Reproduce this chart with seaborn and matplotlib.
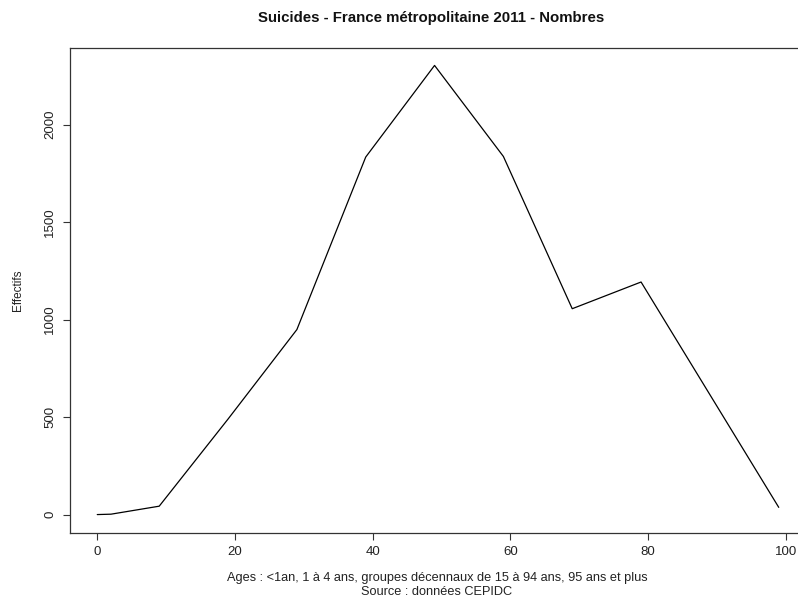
import matplotlib
matplotlib.use("Agg")
import matplotlib.pyplot as plt
import seaborn as sns
import pandas as pd

# Suicides by age, France metropolitaine 2011
ages = [0, 2, 9, 19, 29, 39, 49, 59, 69, 79, 89, 99]
effectifs = [0, 2, 43, 490, 949, 1834, 2304, 1837, 1056, 1193, 615, 37]

x_ticks = [0, 20, 40, 60, 80, 100]
y_ticks = [0, 500, 1000, 1500, 2000]

title = "Suicides - France métropolitaine 2011 - Nombres"
xlabel = "Ages : <1an, 1 à 4 ans, groupes décennaux de 15 à 94 ans, 95 ans et plus\nSource : données CEPIDC"
ylabel = "Effectifs"

df = pd.DataFrame({"age": ages, "n": effectifs})

sns.set_style("ticks")
plt.rcParams["font.family"] = ["Liberation Sans", "DejaVu Sans"]

fig = plt.figure(figsize=(7.98, 6.07), dpi=100)
ax = fig.add_axes([70 / 798, (607 - 532.5) / 607, 736 / 798, 485 / 607])

sns.lineplot(data=df, x="age", y="n", color="black", linewidth=0.9, ax=ax)

# R-like 4% padding
ax.set_xlim(-3.96, 102.96)
ax.set_ylim(-92, 2396)
ax.set_xticks(x_ticks)
ax.set_yticks(y_ticks)
ax.set_yticklabels([str(v) for v in y_ticks], rotation=90, va="center")
ax.tick_params(axis="both", direction="out", length=5, width=0.8, labelsize=9.5,
               colors="#333333", pad=5)
ax.tick_params(axis="both", labelcolor="#222222")
for s in ax.spines.values():
    s.set_visible(True)
    s.set_linewidth(0.9)
    s.set_color("#333333")
ax.set_xlabel("")
ax.set_ylabel("")

fig.text(431 / 798, 1 - 18 / 607, title, ha="center", va="center",
         fontsize=10.8, fontweight="bold", color="#111111")
fig.text(437 / 798, 1 - 585 / 607, xlabel, ha="center", va="center",
         fontsize=9.2, color="#222222", linespacing=1.12)
fig.text(18 / 798, 1 - 290 / 607, ylabel, ha="center", va="center",
         rotation=90, fontsize=8.5, color="#222222")

fig.savefig("out.png", dpi=100)
